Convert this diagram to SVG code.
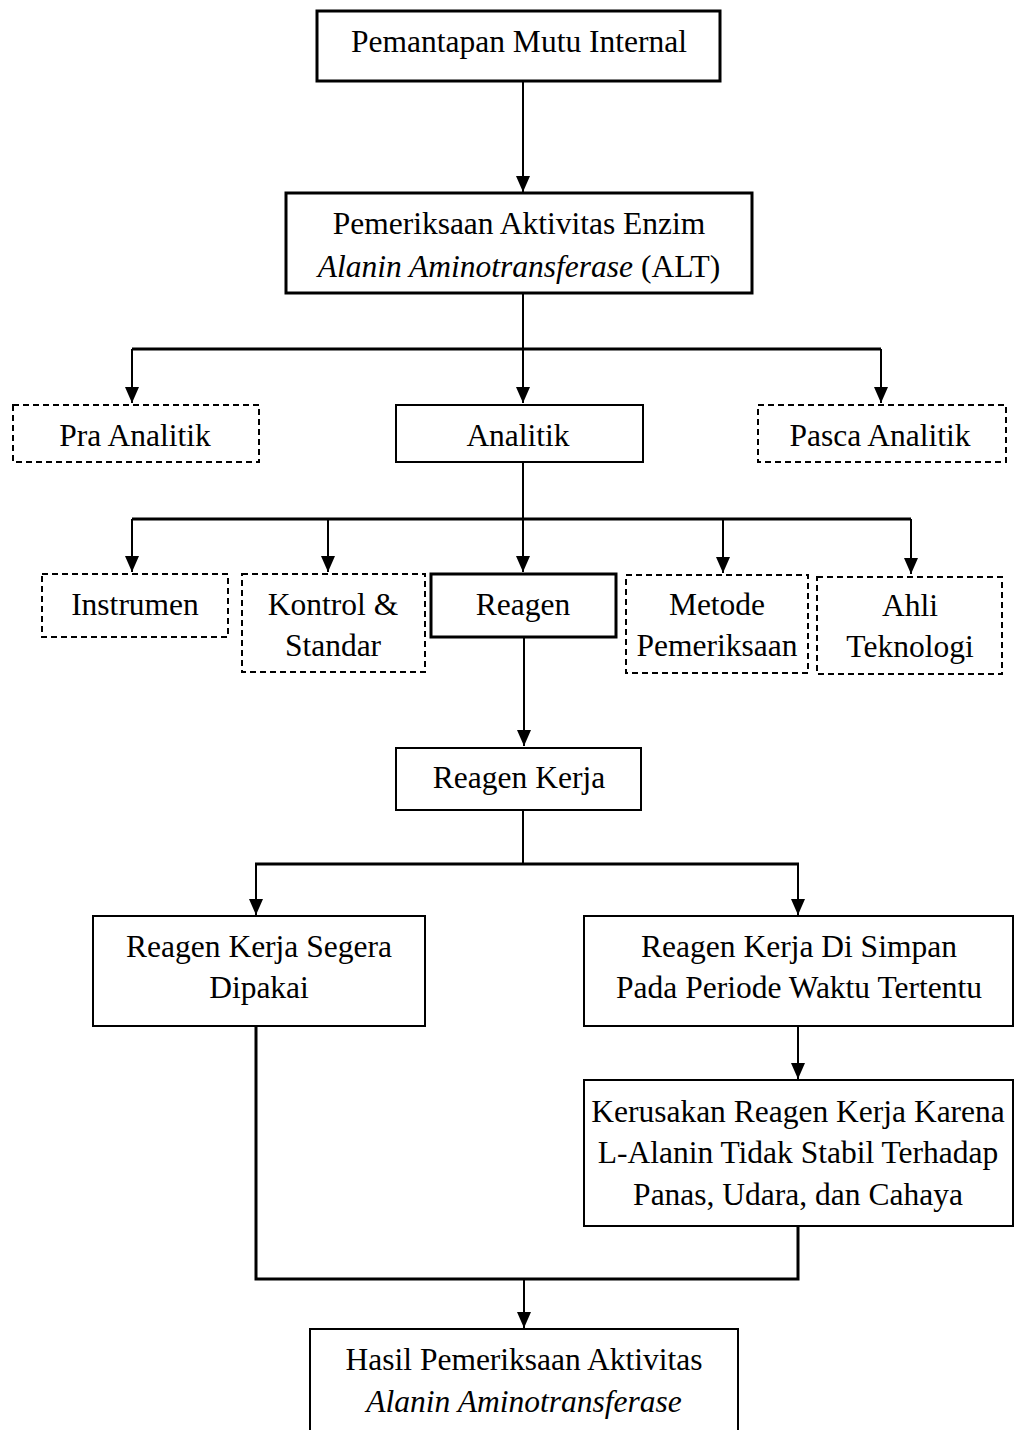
<svg xmlns="http://www.w3.org/2000/svg" width="1014" height="1430" viewBox="0 0 1014 1430">
<defs>
<marker id="arr" markerUnits="userSpaceOnUse" markerWidth="16" markerHeight="14" viewBox="0 0 16 14" refX="16" refY="7" orient="auto">
<path d="M0,0 L16,7 L0,14 Z" fill="#000"/>
</marker>
<style>
.box{fill:#fff;stroke:#000;stroke-width:2}
.thick{stroke-width:3}
.dash{fill:#fff;stroke:#000;stroke-width:2;stroke-dasharray:6 4}
.t{font-family:"Liberation Serif","Times New Roman",serif;font-size:31.5px;fill:#000;text-anchor:middle}
.i{font-style:italic}
.c{fill:none;stroke:#000;stroke-width:2}
.h{fill:none;stroke:#000;stroke-width:3}
</style>
</defs>
<rect width="1014" height="1430" fill="#fff"/>
<g id="connectors">
<line class="c" x1="523" y1="81" x2="523" y2="192" marker-end="url(#arr)"/>
<line class="c" x1="523" y1="293" x2="523" y2="349"/>
<line class="h" x1="132" y1="349" x2="881" y2="349"/>
<line class="c" x1="132" y1="349" x2="132" y2="403" marker-end="url(#arr)"/>
<line class="c" x1="523" y1="349" x2="523" y2="403" marker-end="url(#arr)"/>
<line class="c" x1="881" y1="349" x2="881" y2="403" marker-end="url(#arr)"/>
<line class="c" x1="523" y1="462" x2="523" y2="519"/>
<line class="h" x1="132" y1="519" x2="911" y2="519"/>
<line class="c" x1="132" y1="519" x2="132" y2="572" marker-end="url(#arr)"/>
<line class="c" x1="328" y1="519" x2="328" y2="572" marker-end="url(#arr)"/>
<line class="c" x1="523" y1="519" x2="523" y2="572" marker-end="url(#arr)"/>
<line class="c" x1="723" y1="519" x2="723" y2="573" marker-end="url(#arr)"/>
<line class="c" x1="911" y1="519" x2="911" y2="574" marker-end="url(#arr)"/>
<line class="c" x1="524" y1="638" x2="524" y2="746" marker-end="url(#arr)"/>
<line class="c" x1="523" y1="810" x2="523" y2="864"/>
<line class="h" x1="255" y1="864" x2="799" y2="864"/>
<line class="c" x1="256" y1="864" x2="256" y2="915" marker-end="url(#arr)"/>
<line class="c" x1="798" y1="864" x2="798" y2="915" marker-end="url(#arr)"/>
<line class="c" x1="798" y1="1026" x2="798" y2="1079" marker-end="url(#arr)"/>
<polyline class="h" points="256,1026 256,1279 798,1279 798,1226"/>
<line class="c" x1="524" y1="1279" x2="524" y2="1328" marker-end="url(#arr)"/>
</g>
<g id="node-pmi">
<rect class="box thick" x="317" y="11" width="403" height="70"/>
<text class="t" x="519" y="52">Pemantapan Mutu Internal</text>
</g>
<g id="node-alt">
<rect class="box thick" x="286" y="193" width="466" height="100"/>
<text class="t" x="519" y="234">Pemeriksaan Aktivitas Enzim</text>
<text class="t" x="519" y="277"><tspan class="i">Alanin Aminotransferase</tspan> (ALT)</text>
</g>
<g id="node-pra">
<rect class="dash" x="13" y="405" width="246" height="57"/>
<text class="t" x="135" y="446">Pra Analitik</text>
</g>
<g id="node-analitik">
<rect class="box" x="396" y="405" width="247" height="57"/>
<text class="t" x="518" y="446">Analitik</text>
</g>
<g id="node-pasca">
<rect class="dash" x="758" y="405" width="248" height="57"/>
<text class="t" x="880" y="446">Pasca Analitik</text>
</g>
<g id="node-instrumen">
<rect class="dash" x="42" y="574" width="186" height="63"/>
<text class="t" x="135" y="615">Instrumen</text>
</g>
<g id="node-kontrol">
<rect class="dash" x="242" y="574" width="183" height="98"/>
<text class="t" x="333" y="615">Kontrol &amp;</text>
<text class="t" x="333" y="656">Standar</text>
</g>
<g id="node-reagen">
<rect class="box thick" x="431" y="574" width="185" height="63"/>
<text class="t" x="523" y="615">Reagen</text>
</g>
<g id="node-metode">
<rect class="dash" x="626" y="575" width="182" height="98"/>
<text class="t" x="717" y="615">Metode</text>
<text class="t" x="717" y="656">Pemeriksaan</text>
</g>
<g id="node-ahli">
<rect class="dash" x="817" y="577" width="185" height="97"/>
<text class="t" x="910" y="616">Ahli</text>
<text class="t" x="910" y="657">Teknologi</text>
</g>
<g id="node-reagen-kerja">
<rect class="box" x="396" y="748" width="245" height="62"/>
<text class="t" x="519" y="788">Reagen Kerja</text>
</g>
<g id="node-segera">
<rect class="box" x="93" y="916" width="332" height="110"/>
<text class="t" x="259" y="957">Reagen Kerja Segera</text>
<text class="t" x="259" y="998">Dipakai</text>
</g>
<g id="node-simpan">
<rect class="box" x="584" y="916" width="429" height="110"/>
<text class="t" x="799" y="957">Reagen Kerja Di Simpan</text>
<text class="t" x="799" y="998">Pada Periode Waktu Tertentu</text>
</g>
<g id="node-kerusakan">
<rect class="box" x="584" y="1080" width="429" height="146"/>
<text class="t" x="798" y="1122">Kerusakan Reagen Kerja Karena</text>
<text class="t" x="798" y="1163">L-Alanin Tidak Stabil Terhadap</text>
<text class="t" x="798" y="1205">Panas, Udara, dan Cahaya</text>
</g>
<g id="node-hasil">
<rect class="box" x="310" y="1329" width="428" height="110"/>
<text class="t" x="524" y="1370">Hasil Pemeriksaan Aktivitas</text>
<text class="t i" x="524" y="1412">Alanin Aminotransferase</text>
</g>
</svg>
